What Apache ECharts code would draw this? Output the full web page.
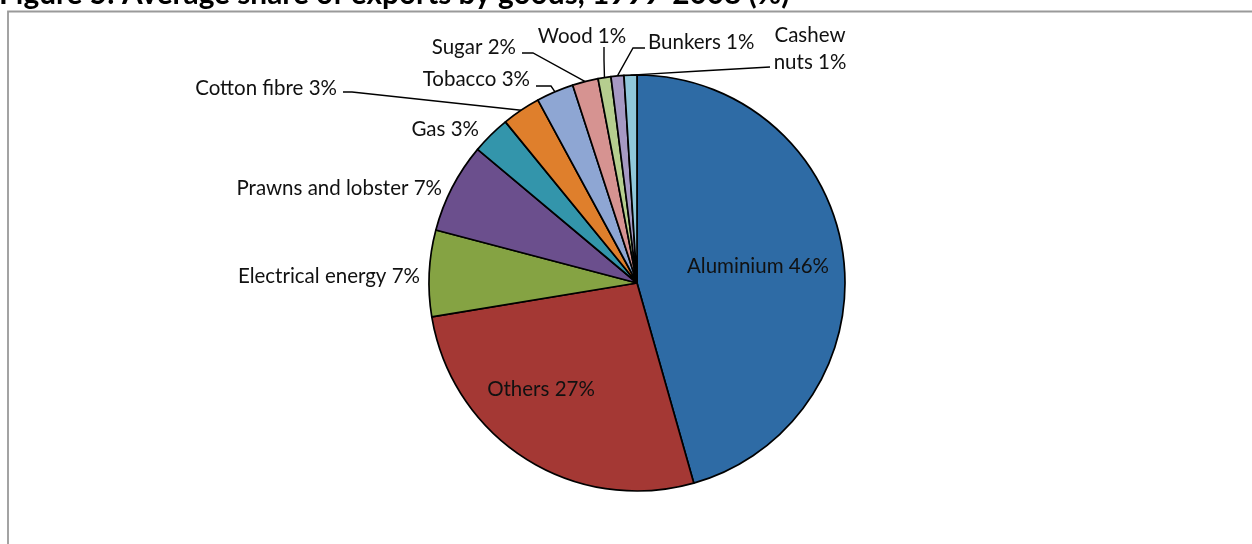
<!DOCTYPE html>
<html><head><meta charset="utf-8">
<script src="https://cdn.jsdelivr.net/npm/echarts@6/dist/echarts.min.js"></script>
<style>html,body{margin:0;padding:0;background:#fff}#c{width:1252px;height:544px}</style>
</head><body><div id="c"></div>
<script>
var titleText = 'Figure 5: Average share of exports by goods, 1999-2008 (%)';
var categories = ['Aluminium','Others','Electrical energy','Prawns and lobster','Gas','Cotton fibre','Tobacco','Sugar','Wood','Bunkers','Cashew nuts'];
var values = [45.6, 26.8, 6.7, 7.0, 3.0, 3.0, 2.9, 2.0, 1.0, 1.0, 1.0];
var colors = ['#2E6BA5','#A43834','#85A343','#6B4F8D','#3395AB','#DF7F2C','#8EA6D3','#D69391','#B6CE8F','#A699C3','#90C7DA'];

// label placement (layout only)
var labelPos = [
  {x:758, y:266, align:'center', line:null},
  {x:541, y:389, align:'center', line:null},
  {x:420, y:276, align:'right', line:null},
  {x:442, y:188, align:'right', line:null},
  {x:479, y:129, align:'right', line:null},
  {x:337, y:88,  align:'right', line:[[352,92],[343,92]]},
  {x:530, y:79,  align:'right', line:[[551,86],[536,86]]},
  {x:516, y:47,  align:'right', line:[[533,53],[522,53]]},
  {x:582, y:36,  align:'center', line:[[604,60],[604,47]]},
  {x:648, y:42,  align:'left', line:[[633,48],[645,48]]},
  {x:810, y:49,  align:'center', line:[[700,71],[770,67]]}
];

var total = values.reduce(function(a,b){return a+b;},0);
var data = categories.map(function(n,i){
  return {name:n, value:values[i], itemStyle:{color:colors[i]},
    labelLine:{show: !!labelPos[i].line}};
});

var chart = echarts.init(document.getElementById('c'), null, {renderer:'canvas'});
chart.setOption({
  animation:false,
  graphic:[
    {type:'rect', shape:{x:8, y:11.5, width:1400, height:700}, style:{fill:'none', stroke:'#9a9a9a', lineWidth:1.8}, silent:true},
    {type:'text', left:-1, top:-21, style:{text:titleText, font:'bold 29.8px Lato', fill:'#000'}, silent:true}
  ],
  series:[{
    type:'pie',
    center:[637,283],
    radius:208,
    startAngle:90,
    clockwise:true,
    silent:true,
    itemStyle:{borderColor:'#000', borderWidth:1.7},
    label:{
      show:true, position:'outside', color:'#111', fontFamily:'Lato', fontSize:20.5, lineHeight:27,
      formatter:function(p){
        var pct = Math.round(p.value/total*100) + '%';
        if (p.name === 'Cashew nuts') return 'Cashew\nnuts ' + pct;
        return p.name + ' ' + pct;
      }
    },
    labelLine:{lineStyle:{color:'#000', width:1.4}, length:10, length2:10},
    labelLayout:function(p){
      var L = labelPos[p.dataIndex];
      var r = {x:L.x, y:L.y, align:L.align, verticalAlign:'middle'};
      if (L.line && p.labelLinePoints) {
        r.labelLinePoints = [p.labelLinePoints[0]].concat(L.line);
      }
      return r;
    },
    data:data
  }]
});
</script></body></html>
